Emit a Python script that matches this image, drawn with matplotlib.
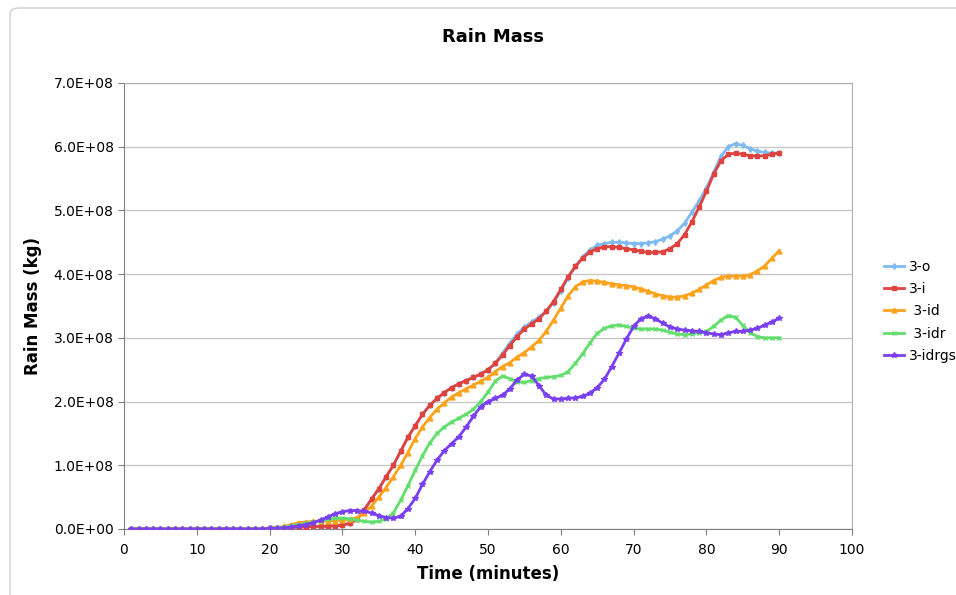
import matplotlib
matplotlib.use("Agg")
import matplotlib.pyplot as plt
from matplotlib.patches import FancyBboxPatch
from matplotlib.ticker import FuncFormatter, MultipleLocator

# Rain mass per minute, in units of 1e8 kg
minutes = list(range(1, 91))

mass_3o = [0] * 18 + [
    0.005, 0.01, 0.015, 0.02, 0.025, 0.03, 0.035, 0.04, 0.04, 0.045, 0.05, 0.06,
    0.09, 0.15, 0.3, 0.47, 0.63, 0.82, 1.0, 1.22, 1.44, 1.62,
    1.8, 1.94, 2.05, 2.14, 2.22, 2.28, 2.33, 2.38, 2.43, 2.5,
    2.6, 2.76, 2.92, 3.06, 3.17, 3.25, 3.32, 3.42, 3.55, 3.74,
    3.94, 4.12, 4.27, 4.38, 4.45, 4.48, 4.5, 4.5, 4.49, 4.48,
    4.48, 4.49, 4.51, 4.55, 4.6, 4.68, 4.8, 4.97, 5.15, 5.35,
    5.6, 5.85, 6.0, 6.05, 6.02, 5.97, 5.93, 5.91, 5.9, 5.9]

mass_3i = [0] * 18 + [
    0.005, 0.01, 0.015, 0.02, 0.025, 0.03, 0.035, 0.04, 0.04, 0.045, 0.05, 0.06,
    0.09, 0.15, 0.3, 0.47, 0.63, 0.82, 1.0, 1.22, 1.44, 1.62,
    1.8, 1.94, 2.05, 2.14, 2.22, 2.28, 2.33, 2.38, 2.43, 2.5,
    2.6, 2.73, 2.88, 3.02, 3.14, 3.22, 3.3, 3.42, 3.57, 3.76,
    3.96, 4.12, 4.25, 4.35, 4.4, 4.43, 4.43, 4.42, 4.4, 4.38,
    4.36, 4.34, 4.34, 4.35, 4.4, 4.48, 4.62, 4.82, 5.05, 5.3,
    5.57, 5.78, 5.88, 5.9, 5.88, 5.86, 5.85, 5.86, 5.88, 5.9]

mass_3id = [0] * 18 + [
    0.005, 0.01, 0.02, 0.04, 0.07, 0.1, 0.11, 0.12, 0.12, 0.13, 0.13, 0.14,
    0.15, 0.18, 0.25, 0.36, 0.5, 0.65, 0.82, 1.0, 1.2, 1.42,
    1.6, 1.75, 1.88, 1.98, 2.07, 2.14, 2.2, 2.26, 2.32, 2.38,
    2.47, 2.55, 2.61, 2.7, 2.77, 2.86, 2.96, 3.1, 3.28, 3.47,
    3.66, 3.8, 3.88, 3.9, 3.89, 3.87, 3.85, 3.83, 3.82, 3.8,
    3.77, 3.73, 3.69, 3.66, 3.64, 3.64, 3.66, 3.7, 3.76, 3.83,
    3.9, 3.95, 3.97, 3.97, 3.97, 3.99, 4.05, 4.13, 4.25, 4.37]

mass_3idr = [0] * 19 + [
    0.01, 0.02, 0.03, 0.05, 0.07, 0.09, 0.11, 0.13, 0.15, 0.17, 0.17,
    0.16, 0.14, 0.12, 0.11, 0.12, 0.16, 0.25, 0.45, 0.68, 0.92,
    1.15, 1.35, 1.5, 1.6, 1.68, 1.74, 1.8, 1.88, 2.0, 2.15,
    2.32, 2.4, 2.36, 2.31, 2.3, 2.33, 2.36, 2.38, 2.39, 2.41,
    2.47, 2.6, 2.75, 2.92, 3.07, 3.15, 3.19, 3.2, 3.18, 3.15,
    3.14, 3.14, 3.14, 3.12, 3.09, 3.06, 3.05, 3.06, 3.08, 3.1,
    3.18, 3.28, 3.35, 3.32, 3.2, 3.08, 3.02, 3.0, 3.0, 3.0]

mass_3idrgs = [0] * 19 + [
    0.01, 0.01, 0.02, 0.03, 0.05, 0.07, 0.1, 0.14, 0.19, 0.24, 0.27,
    0.29, 0.29, 0.28, 0.25, 0.21, 0.18, 0.17, 0.2, 0.32, 0.48,
    0.7, 0.9, 1.08, 1.23, 1.34, 1.45, 1.6, 1.77, 1.92, 2.0,
    2.05, 2.1, 2.2, 2.34, 2.43, 2.4, 2.25, 2.1, 2.04, 2.04,
    2.05, 2.06, 2.08, 2.13, 2.22, 2.35, 2.55, 2.76, 2.98, 3.18,
    3.3, 3.34, 3.3, 3.23, 3.17, 3.14, 3.12, 3.11, 3.1, 3.08,
    3.06, 3.05, 3.08, 3.1, 3.1, 3.12, 3.15, 3.2, 3.25, 3.31]

series = [
    ("3-o", mass_3o, "#7fbaf0", "d", 3),
    ("3-i", mass_3i, "#df4340", "s", 3.5),
    (" 3-id", mass_3id, "#fba31d", "^", 3.5),
    (" 3-idr", mass_3idr, "#62de6c", "x", 3),
    ("3-idrgs", mass_3idrgs, "#7a3ff0", "*", 4),
]

fig = plt.figure(figsize=(9.56, 5.95), dpi=100)
ax = fig.add_axes([124 / 956, 1 - 529 / 595, 728 / 956, 446 / 595])

# outer chart frame
frame = FancyBboxPatch((10 / 956, -0.05), 1.0, 1.0 + 0.05 - 8 / 595,
                       boxstyle="round,pad=0,rounding_size=0.01",
                       transform=fig.transFigure, fill=False,
                       edgecolor="#d0d0d0", linewidth=1.0, zorder=0)
fig.patches.append(frame)

for name, vals, color, marker, ms in series:
    ax.plot(minutes, [v * 1e8 for v in vals], color=color, lw=2,
            marker=marker, markersize=ms, markeredgewidth=1,
            label=name, zorder=3)

ax.set_xlim(0, 100)
ax.set_ylim(0, 7e8)
ax.xaxis.set_major_locator(MultipleLocator(10))
ax.yaxis.set_major_locator(MultipleLocator(1e8))
ax.yaxis.set_major_formatter(FuncFormatter(
    lambda v, p: "%.1fE+%02d" % (v / 1e8, 8) if v > 0 else "0.0E+00"))
ax.grid(axis="y", color="#c8c8c8", lw=1)
ax.set_axisbelow(True)
for s in ax.spines.values():
    s.set_color("#b0b0b0")
ax.spines["left"].set_color("#808080")
ax.spines["bottom"].set_color("#808080")
ax.tick_params(axis="both", labelsize=10, length=4, color="#808080",
               direction="out")
ax.tick_params(axis="x", pad=6)

fig.text(0.5 * (124 + 852) / 956 + 0.005, 1 - 37 / 595, "Rain Mass",
         ha="center", va="center", fontsize=13, fontweight="bold")
ax.set_xlabel("Time (minutes)", fontsize=12, fontweight="bold", labelpad=6)
ax.set_ylabel("Rain Mass (kg)", fontsize=12, fontweight="bold", labelpad=8)

fig.legend(loc="upper left", bbox_to_anchor=(878 / 956, 1 - 254 / 595),
           frameon=False, fontsize=10, handlelength=1.5,
           handletextpad=0.3, labelspacing=0.6, borderaxespad=0)

fig.savefig("out.png", dpi=100)
